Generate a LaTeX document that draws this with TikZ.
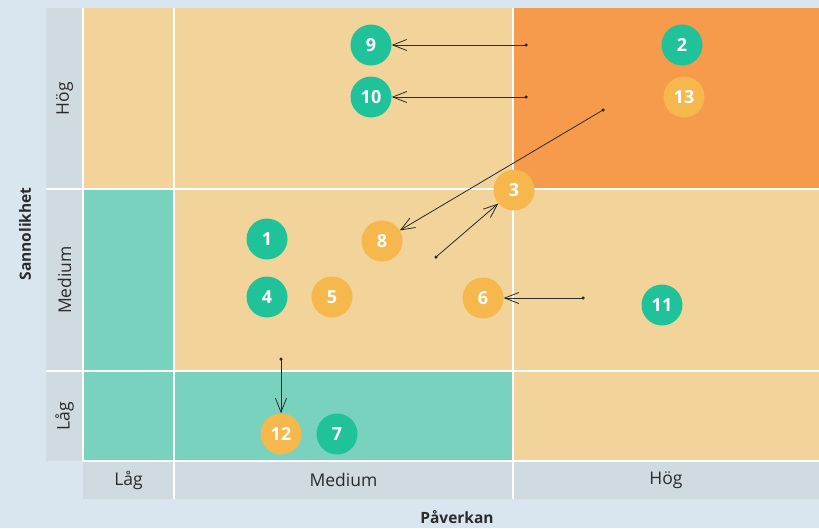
\documentclass[tikz,border=0pt]{standalone}
\usepackage{fontspec}
\setmainfont{Open Sans}
\usetikzlibrary{arrows.meta}
\definecolor{bg}{HTML}{D9E6F0}
\definecolor{lab}{HTML}{CFDAE1}
\definecolor{cell}{HTML}{F2D399}
\definecolor{hot}{HTML}{F59B4B}
\definecolor{cool}{HTML}{79D2BD}
\definecolor{gdot}{HTML}{20C29A}
\definecolor{odot}{HTML}{F6B84C}
\definecolor{ink}{HTML}{2B2B2B}
\tikzset{
  risk/.style={circle, minimum size=41pt, inner sep=0pt, text=white, font=\fontsize{18}{18}\selectfont\bfseries},
  rg/.style={risk, fill=gdot},
  ro/.style={risk, fill=odot},
  sep/.style={draw=white, line width=1.3pt},
  axlab/.style={text=ink, font=\fontsize{17.5}{17.5}\selectfont},
  axtitle/.style={text=ink, font=\fontsize{15.5}{15.5}\selectfont\bfseries},
  mv/.style={draw=ink, line width=0.8pt, -{Straight Barb[length=14pt,width=11pt,line width=0.8pt]}},
  dotpt/.style={circle, fill=ink, inner sep=0pt, minimum size=3.5pt}
}
\begin{document}
\begin{tikzpicture}[x=1pt,y=-1pt]
\useasboundingbox (0,0) rectangle (819,528);
\fill[bg] (0,0) rectangle (819,528);
% label bars
\fill[lab] (46,8) rectangle (83,461);
\fill[lab] (83,461) rectangle (819,499);
% cells
\fill[cell] (83,8) rectangle (819,461);
\fill[hot] (513,8) rectangle (819,189);
\fill[cool] (83,189) rectangle (174,461);
\fill[cool] (174,371) rectangle (513,461);
% separators
\draw[sep] (174,8) -- (174,499);
\draw[sep] (513,8) -- (513,499);
\draw[sep] (46,189) -- (819,189);
\draw[sep] (46,371) -- (819,371);
\draw[sep] (83,461) -- (819,461);
\draw[sep] (83,8) -- (83,461);
% axis labels
\node[axlab, rotate=90] (yh) at (64.5,98.5) {Hög};
\node[axlab, rotate=90] (ym) at (64.5,280) {Medium};
\node[axlab, rotate=90] (yl) at (64.5,416) {Låg};
\node[axlab] (xl) at (128.5,480) {Låg};
\node[axlab] (xm) at (343.5,480) {Medium};
\node[axlab] (xh) at (666,480) {Hög};
\node[axtitle, rotate=90] (ty) at (25,234) {Sannolikhet};
\node[axtitle] (tx) at (457,517) {Påverkan};
% risks
\node[rg] (n9) at (371,45) {9};
\node[rg] (n10) at (371,97) {10};
\node[rg] (n2) at (682,45) {2};
\node[ro] (n13) at (684,97) {13};
\node[ro] (n3) at (514,190) {3};
\node[ro] (n8) at (382,241) {8};
\node[rg] (n1) at (267,239) {1};
\node[rg] (n4) at (267,297) {4};
\node[ro] (n5) at (332,297) {5};
\node[ro] (n6) at (483,298) {6};
\node[rg] (n11) at (662,305) {11};
\node[ro] (n12) at (281,434) {12};
\node[rg] (n7) at (337,434) {7};
% movement starts
\node[dotpt] (s9) at (526,45) {};
\node[dotpt] (s10) at (526,97) {};
\node[dotpt] (s8) at (603,110) {};
\node[dotpt] (s3) at (436,257) {};
\node[dotpt] (s6) at (583,298) {};
\node[dotpt] (s12) at (281,359) {};
\draw[mv] (s9.center) -- (n9);
\draw[mv] (s10.center) -- (n10);
\draw[mv] (s8.center) -- (n8);
\draw[mv] (s3.center) -- (n3);
\draw[mv] (s6.center) -- (n6);
\draw[mv] (s12.center) -- (n12);
\end{tikzpicture}
\end{document}
